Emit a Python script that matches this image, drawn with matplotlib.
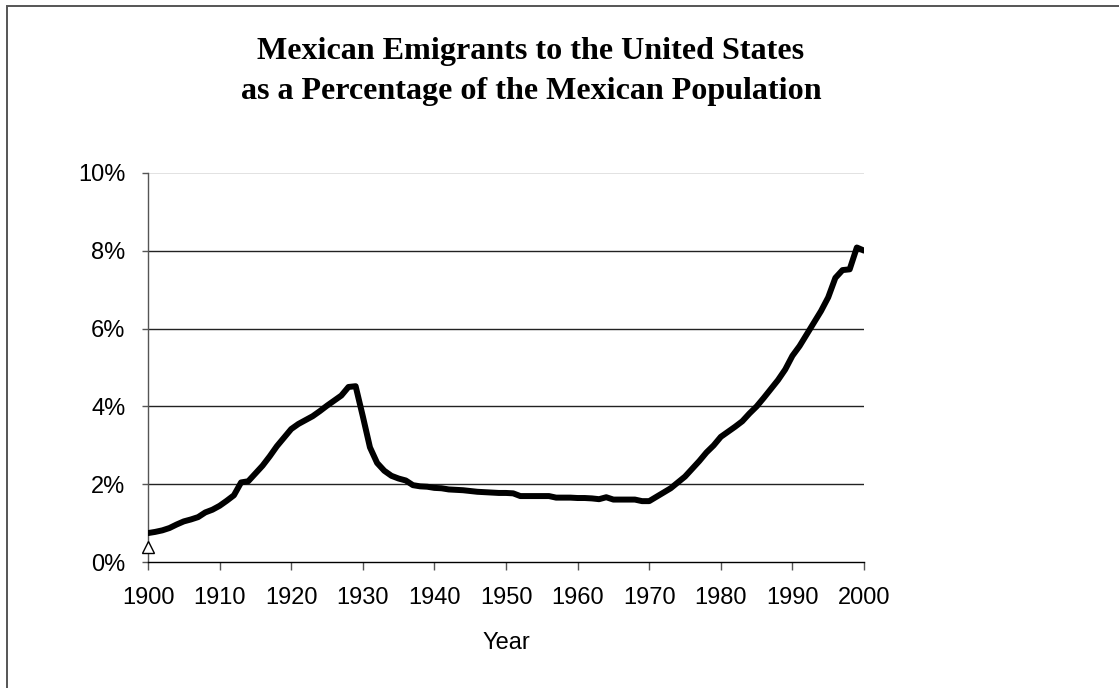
import numpy as np
import matplotlib
matplotlib.use("Agg")
import matplotlib.pyplot as plt
from matplotlib.patches import Rectangle

# emigrants as share of Mexican population (%)
years = list(range(1900, 2001))
share = [
    0.75, 0.78, 0.82, 0.88, 0.97, 1.05, 1.10, 1.16, 1.28, 1.35,   # 1900s
    1.45, 1.58, 1.72, 2.05, 2.08, 2.28, 2.48, 2.72, 2.98, 3.20,   # 1910s
    3.42, 3.55, 3.65, 3.75, 3.88, 4.02, 4.15, 4.28, 4.50, 4.52,   # 1920s
    3.75, 2.95, 2.55, 2.35, 2.22, 2.15, 2.10, 1.98, 1.95, 1.94,   # 1930s
    1.91, 1.90, 1.87, 1.86, 1.85, 1.83, 1.81, 1.80, 1.79, 1.78,   # 1940s
    1.78, 1.77, 1.70, 1.70, 1.70, 1.70, 1.70, 1.66, 1.66, 1.66,   # 1950s
    1.65, 1.65, 1.64, 1.62, 1.67, 1.61, 1.61, 1.61, 1.61, 1.57,   # 1960s
    1.57, 1.68, 1.79, 1.90, 2.05, 2.20, 2.40, 2.60, 2.82, 3.00,   # 1970s
    3.22, 3.35, 3.48, 3.62, 3.82, 4.00, 4.22, 4.45, 4.68, 4.95,   # 1980s
    5.30, 5.55, 5.85, 6.15, 6.45, 6.80, 7.30, 7.50, 7.52, 8.08,   # 1990s
    8.00,
]
marker_year = [1900]
marker_share = [0.4]

xticks = list(range(1900, 2001, 10))
yticks = [0, 2, 4, 6, 8, 10]
ytick_labels = ["0%", "2%", "4%", "6%", "8%", "10%"]

W, H = 1119, 688
fig = plt.figure(figsize=(W / 100, H / 100), dpi=100)
fig.patch.set_facecolor("white")

# outer chart frame (only left and top edges fall inside the image)
fig.patches.append(Rectangle((7.3 / W, -0.2), 1.5, 1.2 - 6 / H, transform=fig.transFigure,
                             fill=False, edgecolor="#555555", lw=1.4))

ax = fig.add_axes([148 / W, 125.7 / H, 716 / W, 389.6 / H])
ax.set_xlim(1900, 2000)
ax.set_ylim(0, 10)

for v in yticks[1:-1]:
    ax.axhline(v, color="#222222", lw=1.0, zorder=1)
ax.axhline(10, color="#dddddd", lw=1.2, zorder=1)

ax.plot(years, share, color="black", lw=4.3, solid_capstyle="round",
        solid_joinstyle="round", zorder=3)
ax.plot(marker_year, marker_share, linestyle="none", marker="^", markersize=9,
        markerfacecolor="white", markeredgecolor="black", markeredgewidth=1.0,
        zorder=4, clip_on=False)

for s in ["top", "right"]:
    ax.spines[s].set_visible(False)
ax.spines["left"].set_color("#555555")
ax.spines["bottom"].set_color("black")
ax.spines["left"].set_linewidth(1.0)
ax.spines["bottom"].set_linewidth(1.0)

tick_font = dict(family="Liberation Sans", size=17)
ax.set_xticks(xticks)
ax.set_xticklabels([str(t) for t in xticks], **tick_font)
ax.set_yticks(yticks)
ax.set_yticklabels(ytick_labels, **tick_font)
ax.tick_params(axis="y", length=4.3, width=1.0, color="#555555", pad=12)
ax.tick_params(axis="x", length=6, width=1.0, color="#555555", pad=12)

fig.text(506 / W, 1 - 643 / H, "Year", ha="center", va="center", **tick_font)

fig.text(531 / W, 1 - 71.5 / H,
         "Mexican Emigrants to the United States\nas a Percentage of the Mexican Population",
         ha="center", va="center", family="Liberation Serif", fontweight="bold",
         fontsize=23.1, linespacing=1.5)

fig.savefig("out.png", dpi=100, facecolor="white")
